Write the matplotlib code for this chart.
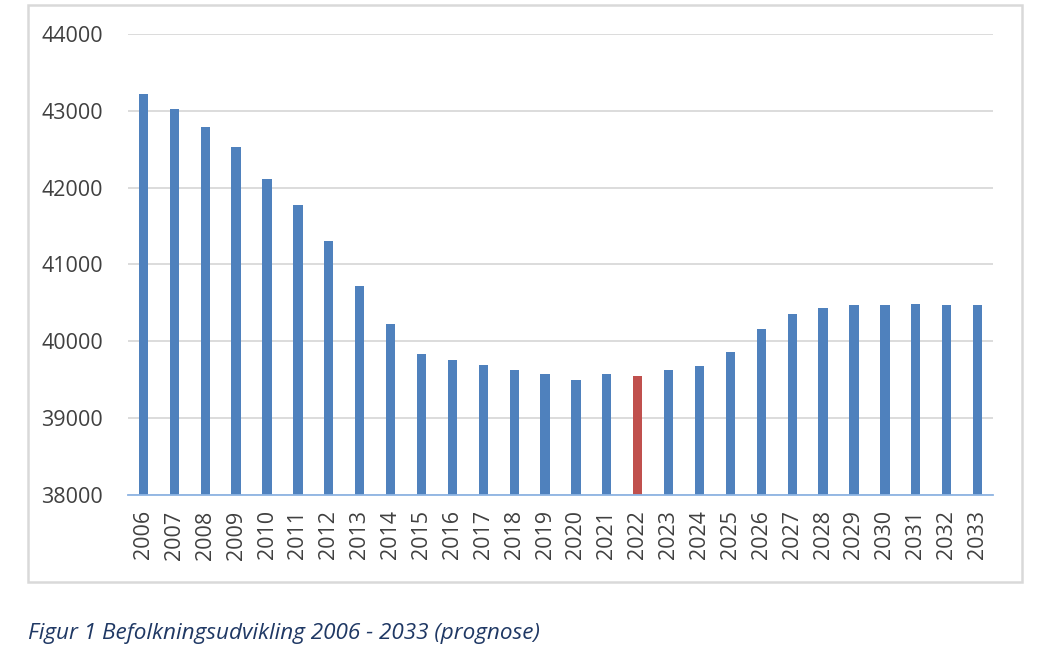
import matplotlib.pyplot as plt
from matplotlib.patches import Rectangle

# =========================
# data
# =========================

years = [str(y) for y in range(2006, 2034)]
population = [43220, 43028, 42786, 42525, 42113, 41779, 41306, 40720, 40225,
              39830, 39757, 39690, 39630, 39570, 39500, 39570, 39550, 39630,
              39683, 39860, 40160, 40350, 40435, 40470, 40475, 40480, 40475,
              40470]
highlight_year = '2022'
y_ticks = [38000, 39000, 40000, 41000, 42000, 43000, 44000]
caption = 'Figur 1 Befolkningsudvikling 2006 - 2033 (prognose)'

BLUE = '#4F81BD'
RED = '#C0504D'

plt.rcParams['font.family'] = ['Open Sans', 'DejaVu Sans']

fig = plt.figure(figsize=(10.4, 6.65), dpi=100)
W, H = 1040, 665

# outer chart frame
fig.patches.append(Rectangle((28 / W, 1 - 582 / H), (1022 - 28) / W, (582 - 5) / H,
                             transform=fig.transFigure, fill=False,
                             edgecolor='#D9D9D9', linewidth=1.8))

ax = fig.add_axes([128 / W, 1 - 495 / H, (993 - 128) / W, (495 - 34) / H])

colors = [RED if y == highlight_year else BLUE for y in years]
ax.bar(range(len(years)), population, width=0.3, color=colors, zorder=3)

ax.set_xlim(-0.5, len(years) - 0.5)
ax.set_ylim(y_ticks[0], y_ticks[-1])
ax.set_yticks(y_ticks)
ax.set_yticklabels([str(t) for t in y_ticks])
ax.set_xticks(range(len(years)))
ax.set_xticklabels(years, rotation=90)

ax.grid(axis='y', color='#D9D9D9', linewidth=1.3, zorder=0)
for s in ['top', 'right', 'left']:
    ax.spines[s].set_visible(False)
ax.spines['bottom'].set_color('#8EB4E3')
ax.spines['bottom'].set_linewidth(1.3)
ax.spines['bottom'].set_zorder(4)

ax.tick_params(axis='y', length=0, pad=18, labelsize=15.5, labelcolor='#404040')
ax.tick_params(axis='x', length=0, pad=11, labelsize=15.5, labelcolor='#404040')

fig.text(28 / W, 1 - 633 / H, caption, style='italic', fontsize=16.2,
         color='#1F3864', va='center', ha='left')

plt.savefig('out.png', dpi=100)
plt.close('all')
